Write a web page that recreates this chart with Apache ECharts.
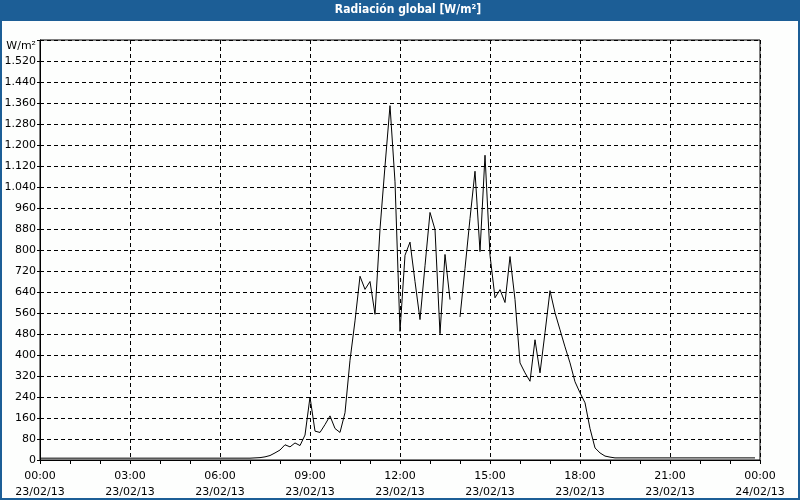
<!DOCTYPE html>
<html>
<head>
<meta charset="utf-8">
<script src="https://cdn.jsdelivr.net/npm/echarts@6/dist/echarts.min.js"></script>
<style>
html,body{margin:0;padding:0;background:#fdfefd;}
#c{width:800px;height:500px;}
</style>
</head>
<body>
<div id="c"></div>
<script>
// Radiación global, 10-minute samples starting 23/02/13 00:00
var titleText = 'Radiación global [W/m²]';
var unitLabel = 'W/m²';
var stepMinutes = 10;
var nightBefore = [7,7,7,7,7,7,7,7,7,7,7,7,7,7,7,7,7,7,7,7,7,7,7,7,7,7,7,7,7,7,7,7,7,7,7,7,7,7,7,7,7,7];
var daytime = [7,8,9,12,17,27,38,58,50,65,55,95,
  240,110,105,135,168,120,
  105,180,380,530,700,650,
  680,555,880,1120,1350,1060,
  490,780,830,680,535,740,
  943,878,481,783,611,null,
  545,730,920,1100,794,1161,
  780,618,649,600,775,611,
  370,332,300,458,332,485,
  645,561,496,431,370,298,
  256,218,120,46,27,15,
  11];
var nightAfter = [8,8,8,8,8,8,8,8,8,8,8,8,8,8,8,8,8,8,8,8,8,8,8,8,8,8,8,8,8];
var xTickLabels = ['00:00\n23/02/13','03:00\n23/02/13','06:00\n23/02/13','09:00\n23/02/13','12:00\n23/02/13','15:00\n23/02/13','18:00\n23/02/13','21:00\n23/02/13','00:00\n24/02/13'];

var values = nightBefore.concat(daytime, nightAfter);
var seriesData = values.map(function(v, i){ return [i * stepMinutes / 60, v]; });

function fmtY(v){
  if (v >= 1600) return '';
  if (v >= 1000) { var r = String(v % 1000); while (r.length < 3) r = '0' + r; return Math.floor(v/1000) + '.' + r; }
  return String(v);
}

var chart = echarts.init(document.getElementById('c'), null, {renderer:'canvas'});
var font = '"DejaVu Sans", sans-serif';
var titleFont = '"DejaVu Sans Condensed", "DejaVu Sans", sans-serif';
chart.setOption({
  animation:false,
  backgroundColor:'#fdfefd',
  graphic:[
    {type:'rect', left:0, top:0, shape:{width:800, height:21}, style:{fill:'#1c5e96'}, z:10},
    {type:'rect', left:0, top:0, shape:{width:2, height:500}, style:{fill:'#1c5e96'}, z:10},
    {type:'rect', right:0, top:0, shape:{width:2, height:500}, style:{fill:'#1c5e96'}, z:10},
    {type:'rect', left:0, bottom:0, shape:{width:800, height:2}, style:{fill:'#1c5e96'}, z:10},
    {type:'text', x:408, y:4, style:{text:titleText, fill:'#ffffff', font:'bold 12px ' + titleFont, textAlign:'center'}, z:11}
  ],
  grid:{left:40, right:40, top:40, bottom:40, show:true, borderColor:'#000', borderWidth:1, backgroundColor:'transparent'},
  xAxis:{
    type:'value', min:0, max:24, interval:3,
    axisLine:{lineStyle:{color:'#000', width:1}},
    axisTick:{show:true, length:4, lineStyle:{color:'#000'}},
    minorTick:{show:true, splitNumber:3, length:4, lineStyle:{color:'#000'}},
    axisLabel:{color:'#000', fontFamily:font, fontSize:11, lineHeight:16, margin:8,
      formatter:function(v){ return xTickLabels[Math.round(v/3)] || ''; }},
    splitLine:{show:true, lineStyle:{color:'#000', type:[4,3], width:1}}
  },
  yAxis:{
    type:'value', min:0, max:1600, interval:80,
    name:unitLabel, nameLocation:'end', nameGap:-6,
    nameTextStyle:{color:'#000', fontFamily:font, fontSize:11, align:'right', verticalAlign:'middle', padding:[0,4,0,0]},
    axisLine:{show:true, lineStyle:{color:'#000', width:1}},
    axisTick:{show:true, length:3, lineStyle:{color:'#000'}},
    axisLabel:{color:'#000', fontFamily:font, fontSize:11, margin:4, formatter:fmtY},
    splitLine:{show:true, lineStyle:{color:'#000', type:[4,3], width:1}}
  },
  series:[{
    type:'line', data:seriesData, showSymbol:false, symbol:'none', connectNulls:false,
    lineStyle:{color:'#000', width:1}, z:5
  }]
});
</script>
</body>
</html>
